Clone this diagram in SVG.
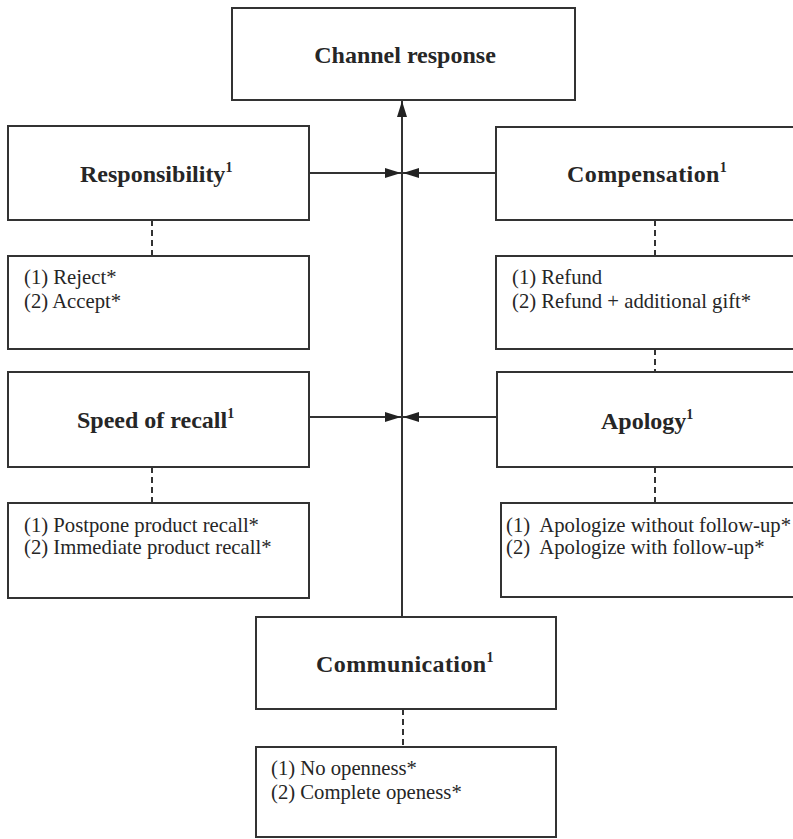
<svg xmlns="http://www.w3.org/2000/svg" width="793" height="839" viewBox="0 0 793 839">
  <style>
    .box { fill: #ffffff; stroke: #333333; stroke-width: 2; }
    .title { font-family: "Liberation Serif", "Times New Roman", serif; font-weight: bold; font-size: 24px; fill: #262626; }
    .sup { font-size: 14px; }
    .opt { font-family: "Liberation Serif", "Times New Roman", serif; font-size: 20.7px; fill: #262626; white-space: pre; }
    .link { stroke: #333333; stroke-width: 2; fill: none; }
    .dash { stroke: #333333; stroke-width: 2; fill: none; stroke-dasharray: 6 4; }
  </style>
  <defs>
    <marker id="arrow" viewBox="0 0 16 10" refX="16" refY="5" markerWidth="16" markerHeight="10" markerUnits="userSpaceOnUse" orient="auto">
      <path d="M0,0 L16,5 L0,10 Z" fill="#222222"/>
    </marker>
  </defs>
  <rect width="793" height="839" fill="#ffffff"/>

  <!-- connectors -->
  <g id="connectors">
    <line class="link" x1="402" y1="617" x2="402" y2="101" marker-end="url(#arrow)"/>
    <line class="link" x1="309" y1="173" x2="401" y2="173" marker-end="url(#arrow)"/>
    <line class="link" x1="496" y1="173" x2="403" y2="173" marker-end="url(#arrow)"/>
    <line class="link" x1="309" y1="417" x2="401" y2="417" marker-end="url(#arrow)"/>
    <line class="link" x1="497" y1="417" x2="403" y2="417" marker-end="url(#arrow)"/>
    <line class="dash" x1="152" y1="220" x2="152" y2="256"/>
    <line class="dash" x1="655" y1="220" x2="655" y2="256"/>
    <line class="dash" x1="655" y1="349" x2="655" y2="372"/>
    <line class="dash" x1="152" y1="467" x2="152" y2="503"/>
    <line class="dash" x1="655" y1="467" x2="655" y2="503"/>
    <line class="dash" x1="403" y1="709" x2="403" y2="747"/>
  </g>

  <!-- outcome -->
  <g id="channel-response">
    <rect class="box" x="232" y="8" width="343" height="92"/>
    <text class="title" x="405" y="63" text-anchor="middle">Channel response</text>
  </g>

  <!-- left column -->
  <g id="responsibility">
    <rect class="box" x="8" y="126" width="301" height="94"/>
    <text class="title" x="80" y="182">Responsibility<tspan class="sup" dy="-10">1</tspan></text>
  </g>
  <g id="responsibility-levels">
    <rect class="box" x="8" y="256" width="301" height="93"/>
    <text class="opt" x="24" y="284">(1) Reject*</text>
    <text class="opt" x="24" y="308">(2) Accept*</text>
  </g>
  <g id="speed-of-recall">
    <rect class="box" x="8" y="372" width="301" height="95"/>
    <text class="title" x="77" y="428">Speed of recall<tspan class="sup" dy="-10">1</tspan></text>
  </g>
  <g id="speed-of-recall-levels">
    <rect class="box" x="8" y="503" width="301" height="95"/>
    <text class="opt" x="24" y="532">(1) Postpone product recall*</text>
    <text class="opt" x="24" y="554">(2) Immediate product recall*</text>
  </g>

  <!-- right column -->
  <g id="compensation">
    <rect class="box" x="496" y="127" width="330" height="93"/>
    <text class="title" x="567" y="182" letter-spacing="0.4">Compensation<tspan class="sup" dy="-10" letter-spacing="0">1</tspan></text>
  </g>
  <g id="compensation-levels">
    <rect class="box" x="496" y="256" width="330" height="93"/>
    <text class="opt" x="512" y="284">(1) Refund</text>
    <text class="opt" x="512" y="308">(2) Refund + additional gift*</text>
  </g>
  <g id="apology">
    <rect class="box" x="497" y="372" width="330" height="95"/>
    <text class="title" x="601" y="429">Apology<tspan class="sup" dy="-10">1</tspan></text>
  </g>
  <g id="apology-levels">
    <rect class="box" x="501" y="503" width="330" height="94"/>
    <text class="opt" x="506" y="532">(1)  Apologize without follow-up*</text>
    <text class="opt" x="506" y="554">(2)  Apologize with follow-up*</text>
  </g>

  <!-- bottom -->
  <g id="communication">
    <rect class="box" x="256" y="617" width="300" height="92"/>
    <text class="title" x="316" y="672" letter-spacing="0.4">Communication<tspan class="sup" dy="-10" letter-spacing="0">1</tspan></text>
  </g>
  <g id="communication-levels">
    <rect class="box" x="256" y="747" width="300" height="90"/>
    <text class="opt" x="271" y="775">(1) No openness*</text>
    <text class="opt" x="271" y="799">(2) Complete openess*</text>
  </g>
</svg>
